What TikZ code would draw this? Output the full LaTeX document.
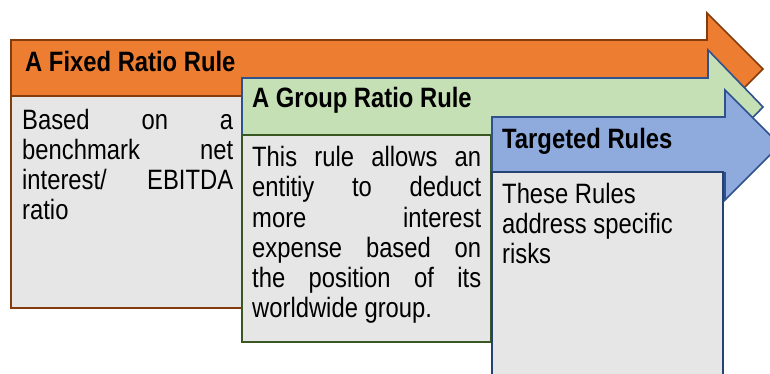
\documentclass[tikz,border=0pt]{standalone}
\usepackage{fontspec}
\setmainfont{Liberation Sans}[FakeStretch=0.85]
\definecolor{orF}{HTML}{ED7D31}
\definecolor{orD}{HTML}{843C0C}
\definecolor{grF}{HTML}{C5E0B4}
\definecolor{grD}{HTML}{385723}
\definecolor{blF}{HTML}{8FAADC}
\definecolor{blD}{HTML}{2F528F}
\definecolor{bodyF}{HTML}{E7E6E6}
\tikzset{
  arr/.style={line width=1.6pt, line join=miter},
  bodybox/.style={fill=bodyF, line width=1.6pt},
  title/.style={inner sep=0pt, anchor=base west, font=\fontsize{28}{30}\selectfont\bfseries},
  bodytext/.style={inner sep=0pt, anchor=base west, font=\fontsize{28}{30}\selectfont}
}
\newcommand{\jl}[2]{\makebox[#1][s]{#2}}
\begin{document}
\begin{tikzpicture}[x=1pt,y=-1pt]
\useasboundingbox (0,0) rectangle (770,374);
\clip (0,0) rectangle (770,374);
% orange
\draw[arr, fill=orF, draw=orD] (11,40) -- (707,40) -- (707,13) -- (763,69) -- (707,125) -- (707,98) -- (11,98) -- cycle;
\draw[bodybox, draw=orD] (11,96) rectangle (250,308);
\node[title] (t1) at (25,72) {A Fixed Ratio Rule};
\node[bodytext] (b1) at (22,130) {\parbox[t]{211pt}{\jl{211pt}{Based on a}\\\jl{211pt}{benchmark net}\\\jl{211pt}{interest/ EBITDA}\\ratio}};
% green
\draw[arr, fill=grF, draw=blD] (242,78) -- (708,78) -- (708,50) -- (763,107) -- (708,164) -- (708,136) -- (242,136) -- cycle;
\draw[bodybox, draw=grD] (242,135) rectangle (491,342);
\node[title] (t2) at (252,108) {A Group Ratio Rule};
\node[bodytext] (b2) at (252,167) {\parbox[t]{229pt}{\jl{229pt}{This rule allows an}\\\jl{229pt}{entitiy to deduct}\\\jl{229pt}{more interest}\\\jl{229pt}{expense based on}\\\jl{229pt}{the position of its}\\worldwide group.}};
% blue
\draw[arr, fill=blF, draw=blD] (492,117) -- (725,117) -- (725,90) -- (780,145) -- (725,200) -- (725,173) -- (492,173) -- cycle;
\draw[bodybox, draw=blD!80!black] (492,172) rectangle (723,400);
\node[title] (t3) at (502,149) {Targeted Rules};
\node[bodytext] (b3) at (502,203) {\parbox[t]{210pt}{These Rules\\address specific\\risks}};
\end{tikzpicture}
\end{document}
